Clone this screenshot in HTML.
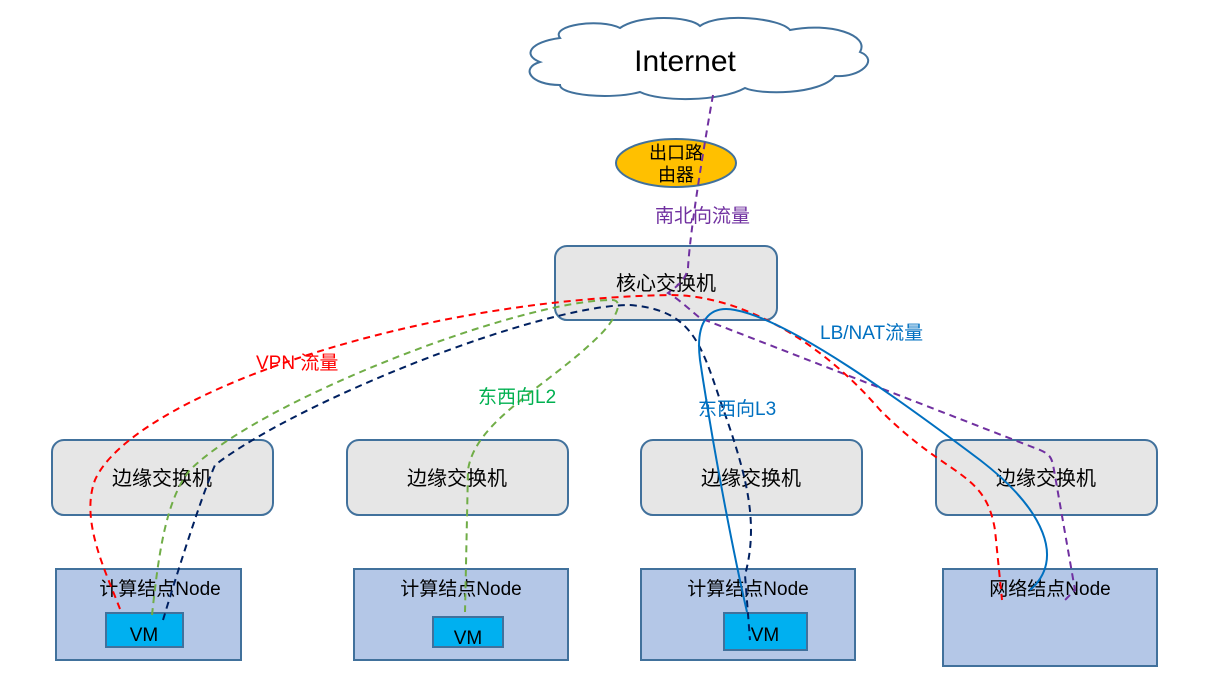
<!DOCTYPE html>
<html><head><meta charset="utf-8"><style>
html,body{margin:0;padding:0;background:#fff;}
svg{display:block;font-family:"Liberation Sans","Noto Sans CJK SC",sans-serif;}
</style></head><body>
<svg width="1216" height="680" viewBox="0 0 1216 680">
<g fill="#fff" stroke="#41719C" stroke-width="2">
<path d="M560,38 C550,25 600,18 620,28 C640,14 690,16 700,26 C720,12 780,18 790,30 C830,22 870,35 860,52 C880,60 860,78 835,76 C820,95 760,95 745,88 C720,102 660,102 640,92 C610,100 560,95 560,85 C530,85 520,68 540,62 C522,55 530,42 560,38 Z"/>
</g>
<text x="685" y="71" font-size="30" text-anchor="middle" fill="#000">Internet</text>
<ellipse cx="676" cy="163" rx="60" ry="24" fill="#FFC000" stroke="#41719C" stroke-width="2"/>
<text x="676" y="159" font-size="18" text-anchor="middle">出口路</text>
<text x="676" y="181" font-size="18" text-anchor="middle">由器</text>
<rect x="555" y="246" width="222" height="74" rx="12" fill="#E6E6E6" stroke="#41719C" stroke-width="2"/>
<text x="666" y="290" font-size="20" text-anchor="middle">核心交换机</text>
<g fill="#E6E6E6" stroke="#41719C" stroke-width="2">
<rect x="52" y="440" width="221" height="75" rx="12"/>
<rect x="347" y="440" width="221" height="75" rx="12"/>
<rect x="641" y="440" width="221" height="75" rx="12"/>
<rect x="936" y="440" width="221" height="75" rx="12"/>
</g>
<g font-size="20" text-anchor="middle">
<text x="162" y="485">边缘交换机</text>
<text x="457" y="485">边缘交换机</text>
<text x="751" y="485">边缘交换机</text>
<text x="1046" y="485">边缘交换机</text>
</g>
<g fill="#B4C7E7" stroke="#41719C" stroke-width="2">
<rect x="56" y="569" width="185" height="91"/>
<rect x="354" y="569" width="214" height="91"/>
<rect x="641" y="569" width="214" height="91"/>
<rect x="943" y="569" width="214" height="97"/>
</g>
<g font-size="19" text-anchor="middle">
<text x="160" y="595">计算结点Node</text>
<text x="461" y="595">计算结点Node</text>
<text x="748" y="595">计算结点Node</text>
<text x="1050" y="595">网络结点Node</text>
</g>
<g fill="#00B0F0" stroke="#41719C" stroke-width="2">
<rect x="106" y="613" width="77" height="34"/>
<rect x="433" y="617" width="70" height="30"/>
<rect x="724" y="613" width="83" height="37"/>
</g>
<g font-size="19" text-anchor="middle">
<text x="144" y="641">VM</text>
<text x="468" y="644">VM</text>
<text x="765" y="641">VM</text>
</g>
<g fill="none" stroke-width="2">
<path d="M713,95 C705,140 690,230 688,268 C686,280 675,288 668,293 C680,300 690,310 700,318 L1040,450 C1052,455 1052,460 1054,470 L1075,590 L1065,600" stroke="#7030A0" stroke-dasharray="7,5"/>
<path d="M120,609 C105,570 80,520 95,480 C130,400 400,300 670,295 C740,295 820,340 880,410 C950,480 985,470 995,530 L1002,600" stroke="#FF0000" stroke-dasharray="7,5"/>
<path d="M152,615 C158,560 165,500 190,470 C260,400 520,300 612,300 C625,300 615,320 600,335 C550,385 475,420 468,470 L465,612" stroke="#70AD47" stroke-dasharray="7,5"/>
<path d="M163,620 C175,580 200,500 215,465 C300,400 540,305 630,305 C690,310 700,340 720,400 C745,470 760,520 745,575 L750,640" stroke="#002060" stroke-dasharray="7,5"/>
<path d="M747,612 C735,560 715,460 700,360 C695,320 710,305 735,310 C790,320 900,400 980,460 C1045,510 1065,560 1030,590" stroke="#0070C0"/>
</g>
<g font-size="19">
<text x="655" y="222" fill="#7030A0">南北向流量</text>
<text x="256" y="369" fill="#FF0000">VPN 流量</text>
<text x="478" y="403" fill="#00B050">东西向L2</text>
<text x="698" y="415" fill="#0070C0">东西向L3</text>
<text x="820" y="339" fill="#0070C0">LB/NAT流量</text>
</g>
</svg>
</body></html>
